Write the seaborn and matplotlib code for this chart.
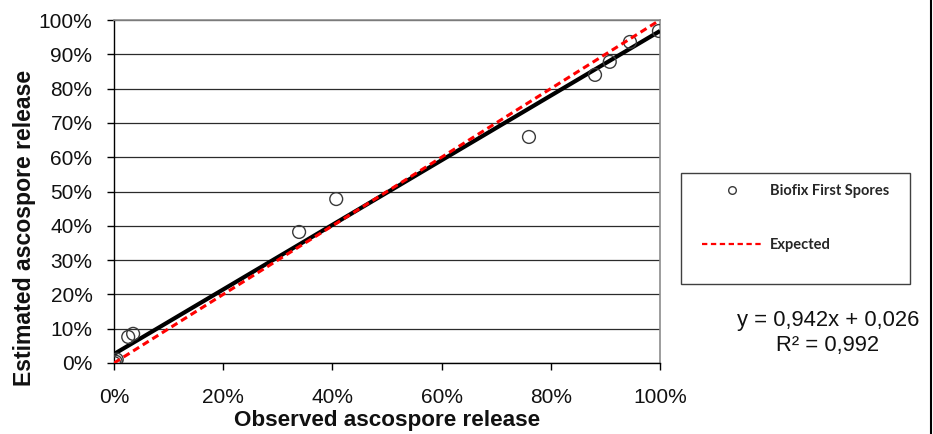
import matplotlib
matplotlib.use("Agg")
import matplotlib.pyplot as plt
import matplotlib.patches as mpatches
from matplotlib.lines import Line2D
from matplotlib.ticker import PercentFormatter, MultipleLocator
import seaborn as sns
import numpy as np
import pandas as pd

# Observed vs. estimated cumulative ascospore release (fractions)
observed = [0.000, 0.005, 0.003, 0.026, 0.035, 0.339, 0.407, 0.760, 0.881, 0.908, 0.945, 0.998]
estimated = [0.000, 0.010, 0.004, 0.076, 0.085, 0.382, 0.478, 0.659, 0.840, 0.878, 0.936, 0.968]

# Linear fit reported on the chart
slope = 0.942
intercept = 0.026
r_squared = 0.992

series_label = "Biofix First Spores"
expected_label = "Expected"
x_title = "Observed ascospore release"
y_title = "Estimated ascospore release"

sns.set_style("white")
plt.rcParams["font.family"] = ["Liberation Sans", "DejaVu Sans"]

df = pd.DataFrame({"observed": observed, "estimated": estimated})

fig = plt.figure(figsize=(9.33, 4.34), dpi=100)
ax = fig.add_axes([0.1222, 0.1636, 0.5852, 0.7903])

sns.scatterplot(data=df, x="observed", y="estimated", ax=ax, s=85,
                marker="o", linewidth=1.0, zorder=4, legend=False)
pts = ax.collections[-1]
pts.set_facecolor("none")
pts.set_edgecolor("#3a3a3a")

xs = np.array([0.0, 1.0])
ax.plot(xs, slope * xs + intercept, color="black", lw=3.0, zorder=3,
        solid_capstyle="butt")
ax.plot(xs, xs, color="#ff0000", lw=2.2, ls=(0, (2.3, 1.4)), zorder=5)

ax.set_xlim(0, 1)
ax.set_ylim(0, 1)
ax.xaxis.set_major_locator(MultipleLocator(0.2))
ax.yaxis.set_major_locator(MultipleLocator(0.1))
ax.xaxis.set_major_formatter(PercentFormatter(1.0, decimals=0))
ax.yaxis.set_major_formatter(PercentFormatter(1.0, decimals=0))

ax.yaxis.grid(True, color="#2b2b2b", lw=0.9)
ax.xaxis.grid(False)
ax.set_axisbelow(True)

for side in ("left", "bottom"):
    ax.spines[side].set_color("black")
    ax.spines[side].set_linewidth(1.0)
for side in ("top", "right"):
    ax.spines[side].set_color("#8c8c8c")
    ax.spines[side].set_linewidth(1.2)
    ax.spines[side].set_visible(True)

ax.tick_params(axis="both", which="major", direction="out", length=5,
               width=1, color="black", labelsize=15, labelcolor="#111111",
               left=True, bottom=True)
ax.tick_params(axis="y", pad=10.5)
ax.tick_params(axis="x", pad=13)

ax.set_xlabel(x_title, fontsize=16.2, fontweight="bold", color="#111111")
ax.set_ylabel(y_title, fontsize=16.6, fontweight="bold", color="#111111")
ax.xaxis.set_label_coords(0.5, -0.138)
ax.yaxis.set_label_coords(-0.143, 0.394)

# Legend box
W, H = 933.0, 434.0
box = mpatches.Rectangle((681 / W, 1 - 284 / H), (910 - 681) / W, (284 - 173) / H,
                         transform=fig.transFigure, fill=False,
                         ec="#404040", lw=1.0)
fig.add_artist(box)

handles = [
    Line2D([], [], marker="o", ls="none", mfc="white", mec="#3a3a3a",
           mew=1.0, ms=5.5),
    Line2D([], [], color="#ff0000", lw=1.6, ls=(0, (2.4, 1.6))),
]
fig.legend(handles, [series_label, expected_label], loc="upper left",
           bbox_to_anchor=(695 / W, 1 - 177 / H), frameon=False,
           borderpad=0, handlelength=4.1, handletextpad=0.55,
           labelspacing=2.75,
           prop={"family": ["Lato", "DejaVu Sans"], "weight": "bold",
                 "size": 10.5})

fig.text(828 / W, 1 - 333 / H,
         f"y = {slope:.3f}x + {intercept:.3f}".replace(".", ",")
         + "\n" + f"R² = {r_squared:.3f}".replace(".", ","),
         ha="center", va="center", multialignment="center",
         fontsize=15.8, color="#111111", linespacing=1.2)

# Right-hand frame edge
fig.add_artist(Line2D([931 / W, 931 / W], [0, 1], transform=fig.transFigure,
                      color="black", lw=1.5))

fig.savefig("out.png", dpi=100)
